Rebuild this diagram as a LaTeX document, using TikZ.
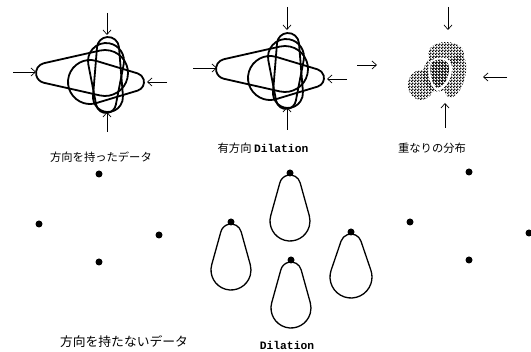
\documentclass[tikz,border=0pt]{standalone}
\usepackage{fontspec}
\setmainfont{Noto Sans CJK JP}
\setmonofont{Liberation Mono}
\usetikzlibrary{calc,patterns,arrows.meta}

% halftone dots for the overlap picture
\pgfdeclarepatternformonly{halftone}{\pgfpointorigin}{\pgfpoint{3pt}{3pt}}{\pgfpoint{3pt}{3pt}}{%
  \pgfpathcircle{\pgfpoint{0.75pt}{0.75pt}}{1.05pt}%
  \pgfpathcircle{\pgfpoint{2.25pt}{2.25pt}}{1.05pt}%
  \pgfusepath{fill}}
\pgfdeclarepatternformonly{halftonedark}{\pgfpointorigin}{\pgfpoint{3pt}{3pt}}{\pgfpoint{3pt}{3pt}}{%
  \pgfpathcircle{\pgfpoint{0.75pt}{0.75pt}}{1.35pt}%
  \pgfpathcircle{\pgfpoint{2.25pt}{2.25pt}}{1.35pt}%
  \pgfusepath{fill}}

\tikzset{
  arr/.style={line width=0.7pt, -{Straight Barb[length=4.5pt,width=8pt]}},
  lbl/.style={font=\fontsize{11.3}{13}\selectfont, inner sep=0pt},
  dot/.style={circle, fill=black, inner sep=0pt, minimum size=7pt},
  ring/.style={draw, line width=1.8pt},
  pearline/.style={draw, line width=1.3pt},
  % tip at the origin, bulb below; #1 length, #2 bulb radius, #3 tip radius
  pics/pear/.style n args={3}{code={
    \pgfmathsetmacro\pL{#1}\pgfmathsetmacro\pR{#2}\pgfmathsetmacro\pr{#3}
    \pgfmathsetmacro\pa{asin((\pR-\pr)/(\pL-\pR-\pr))}
    \draw[pic actions] ($(0,\pr)+(180+\pa:\pr)$) -- ($(0,\pL-\pR)+(180+\pa:\pR)$)
      arc[start angle=180+\pa, end angle=-\pa, radius=\pR]
      -- ($(0,\pr)+(-\pa:\pr)$)
      arc[start angle=-\pa, end angle=-180+\pa, radius=\pr] -- cycle;
  }}
}

\begin{document}
\begin{tikzpicture}[x=1pt, y=-1pt]
  \useasboundingbox (0,0) rectangle (531,352);

  % directed data and its dilation
  \foreach \dx/\dy in {0/0, 180/-4}{
    \begin{scope}[shift={(\dx,\dy)}]
      \pic[ring, rotate=90] at (36,73) {pear={92}{23}{10}};
      \pic[ring] at (108,37) {pear={75}{15}{11}};
      \pic[ring, rotate=-90] at (144,82) {pear={76}{22}{9}};
      \pic[ring, rotate=180] at (106,113) {pear={70}{18}{10}};
    \end{scope}
  }

  % overlap distribution
  \begin{scope}
    \fill[pattern=halftone] (446,54) ellipse [x radius=18, y radius=12];
    \fill[pattern=halftone] (421,85) ellipse [x radius=13, y radius=15];
    \fill[pattern=halftone, rotate around={-15:(455,76)}] (455,76) ellipse [x radius=10, y radius=22];
    \fill[pattern=halftone] (437,74) ellipse [x radius=14, y radius=18];
    \fill[white] (430,62) .. controls (438,54) and (452,57) .. (452,68)
      .. controls (452,81) and (444,90) .. (437,91) .. controls (430,87) and (426,72) .. (430,62) -- cycle;
    \fill[pattern=halftonedark] (431,63) .. controls (438,57) and (449,59) .. (449,68)
      .. controls (449,80) and (443,87) .. (437,88) .. controls (432,85) and (429,72) .. (431,63) -- cycle;
  \end{scope}

  % arrows
  \foreach \i/\xa/\ya/\xb/\yb in {
      1/107/13/107/35, 2/13/72/36/72, 3/167/82/147/82, 4/107/132/107/112,
      5/287/7/287/30, 6/193/68/217/68, 7/347/79/327/79, 8/287/130/287/107,
      9/448/7/448/30, 10/357/65/377/65, 11/507/77/483/77, 12/445/128/445/103}{
    \coordinate (s\i) at (\xa,\ya);
    \coordinate (e\i) at (\xb,\yb);
    \draw[arr] (s\i) -- (e\i);
  }

  % undirected data and its dilation
  \node[dot] (p1) at (99,174) {};
  \node[dot] (p2) at (39,224) {};
  \node[dot] (p3) at (159,235) {};
  \node[dot] (p4) at (99,262) {};

  \pic[pearline] at (290,175) {pear={66}{20}{10.5}};
  \pic[pearline] at (231,224) {pear={66}{20}{10.5}};
  \pic[pearline] at (291,262) {pear={66}{20}{10.5}};
  \pic[pearline] at (351,234) {pear={64}{21}{10.5}};
  \node[dot] (q1) at (290,173) {};
  \node[dot] (q2) at (231,222) {};
  \node[dot] (q3) at (291,260) {};
  \node[dot] (q4) at (351,232) {};

  \node[dot] (r1) at (469,172) {};
  \node[dot] (r2) at (410,222) {};
  \node[dot] (r3) at (529,233) {};
  \node[dot] (r4) at (469,260) {};

  % labels
  \node[lbl] (l1) at (101,157) {方向を持ったデータ};
  \node[lbl] (l2) at (263,148) {有方向 \texttt{\bfseries Dilation}};
  \node[lbl] (l3) at (432,148) {重なりの分布};
  \node[lbl, font=\fontsize{12.8}{14}\selectfont] (l4) at (124,342) {方向を持たないデータ};
  \node[lbl] (l5) at (287,345) {\texttt{\bfseries Dilation}};
\end{tikzpicture}
\end{document}
